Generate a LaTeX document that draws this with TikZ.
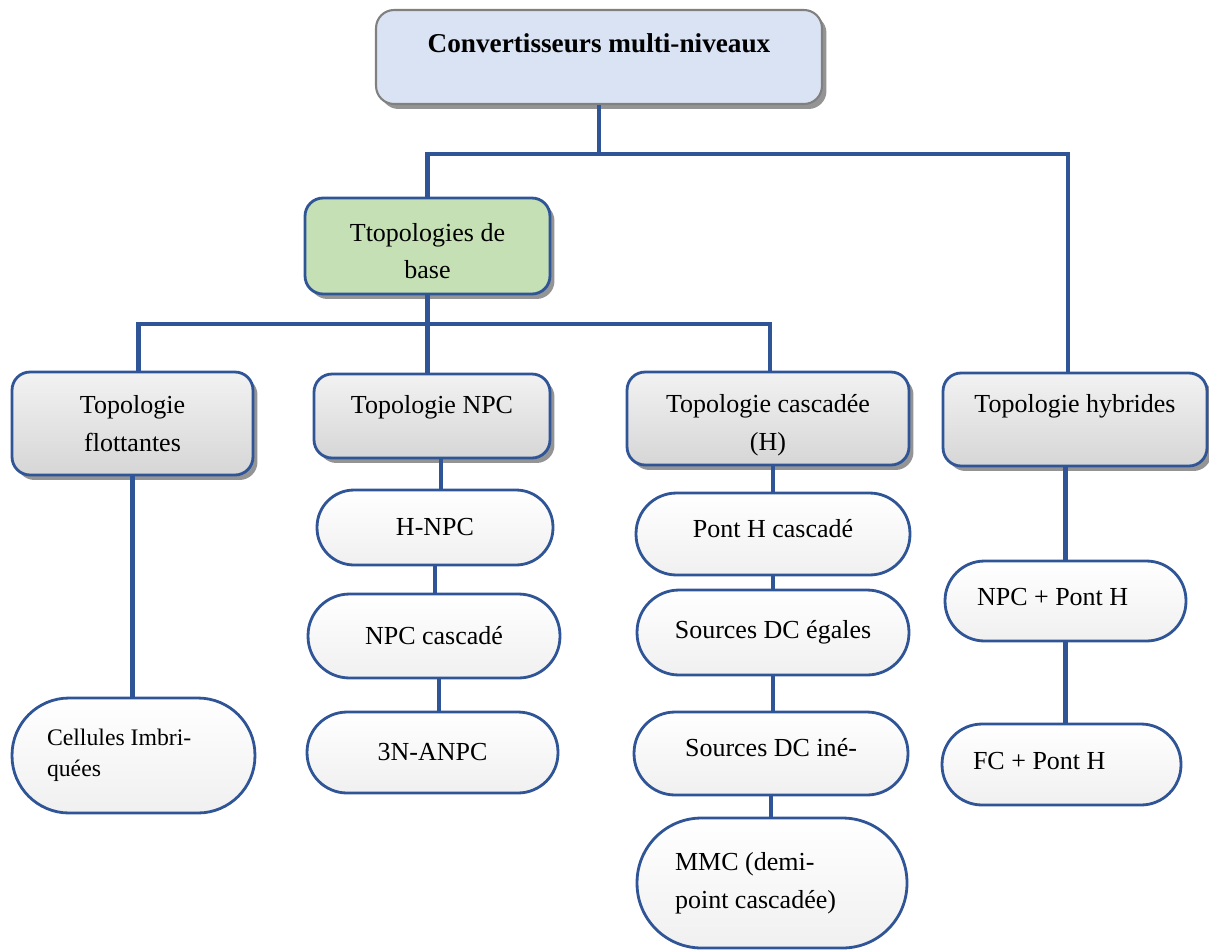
\documentclass[tikz,border=0pt]{standalone}
\usepackage{fontspec}
\setmainfont{Liberation Serif}
\usetikzlibrary{shadows}
\definecolor{lineblue}{HTML}{2F5597}
\definecolor{topfill}{HTML}{DAE3F3}
\definecolor{topgrey}{HTML}{808080}
\definecolor{basegreen}{HTML}{C5E0B4}
\definecolor{greytop}{HTML}{F2F2F2}
\definecolor{greybot}{HTML}{D6D6D6}
\definecolor{termbot}{HTML}{F0F0F0}
\begin{document}
\begin{tikzpicture}[x=0.02cm, y=-0.02cm,
    font=\fontsize{14.8}{21.6}\selectfont,
    wire/.style={lineblue, line width=2.3pt},
    box/.style={draw=lineblue, line width=1.6pt, rounded corners=0.36cm, align=center,
        drop shadow={shadow xshift=0.09cm, shadow yshift=-0.1cm, fill=black!42, opacity=1}},
    grey/.style={box, top color=greytop, bottom color=greybot},
    term/.style={draw=lineblue, line width=1.6pt, rounded corners=#1, top color=white, bottom color=termbot, align=center},
    txtup/.style={text height=0.7em, text depth=#1}]
            \useasboundingbox (0,0) rectangle (1209,950);
            \node[box, fill=topfill, draw=topgrey, line width=1.2pt, minimum width=8.92cm, minimum height=1.88cm, txtup=0.41cm, font=\fontsize{15.5}{20}\selectfont\bfseries] (A) at (599,57) {Convertisseurs multi-niveaux};
            \node[box, fill=basegreen, minimum width=4.9cm, minimum height=1.92cm, text height=1.32cm, text depth=0cm] (B) at (427.5,246) {Ttopologies de\\base};
            \node[grey, minimum width=4.82cm, minimum height=2.06cm] (C) at (132.5,423.5) {Topologie\\flottantes};
            \node[grey, minimum width=4.72cm, minimum height=1.68cm, txtup=0.33cm] (D) at (432,416) {Topologie NPC};
            \node[grey, minimum width=5.64cm, minimum height=1.86cm, text height=1.4cm, text depth=0.13cm] (E) at (768,418.5) {Topologie cascadée\\(H)};
            \node[grey, minimum width=5.28cm, minimum height=1.86cm, txtup=0.53cm] (F) at (1075,419.5) {Topologie hybrides};
            \node[term=0.74cm, minimum width=4.72cm, minimum height=1.5cm] (G) at (435,527.5) {H-NPC};
            \node[term=0.83cm, minimum width=5.04cm, minimum height=1.68cm] (H) at (434,636) {NPC cascadé};
            \node[term=0.8cm, minimum width=5.02cm, minimum height=1.62cm] (I) at (432.5,752.5) {3N-ANPC};
            \node[term=0.81cm, minimum width=5.48cm, minimum height=1.64cm, txtup=0.09cm] (J) at (773,534) {Pont H cascadé};
            \node[term=0.84cm, minimum width=5.44cm, minimum height=1.7cm] (K) at (773,632.5) {Sources DC égales};
            \node[term=0.82cm, minimum width=5.48cm, minimum height=1.66cm, txtup=0.11cm] (L) at (771,753.5) {Sources DC iné-};
            \node[term=1.29cm, minimum width=5.4cm, minimum height=2.6cm, align=flush left, text width=3.88cm, inner xsep=0.76cm] (M) at (772,883) {MMC (demi-\\point cascadée)};
            \node[term=1.14cm, minimum width=4.86cm, minimum height=2.3cm, align=flush left, text width=3.46cm, inner xsep=0.7cm, font=\fontsize{13.5}{17.6}\selectfont] (N) at (133.5,755.5) {Cellules Imbri-\\quées};
            \node[term=0.79cm, minimum width=4.82cm, minimum height=1.6cm, align=flush left, text width=3.54cm, inner xsep=0.64cm, txtup=0.05cm] (O) at (1065.5,601) {NPC + Pont H};
            \node[term=0.8cm, minimum width=4.78cm, minimum height=1.62cm, align=flush left, text width=3.54cm, inner xsep=0.62cm, txtup=0.05cm] (P) at (1061.5,764.5) {FC + Pont H};
            \coordinate (X) at (599,154);
            \coordinate (Y) at (427.5,324);
            \draw[wire] (A.south) -- (A.south |- X);
            \draw[wire] (B.north) |- (X) -| ([xshift=-0.14cm]F.north);
            \draw[wire] (B.south) -- (Y);
            \draw[wire] ([xshift=0.12cm]C.north) |- (Y) -| ([xshift=0.04cm]E.north);
            \draw[wire] (Y) -- (Y |- D.north);
            \draw[wire] (C.south) -- (C.south |- N.north);
            \draw[wire] ([xshift=0.12cm]G.north |- D.south) -- ([xshift=0.12cm]G.north);
            \draw[wire] (G.south) -- (G.south |- H.north);
            \draw[wire] ([xshift=0.1cm]H.south) -- ([xshift=0.1cm]H.south |- I.north);
            \draw[wire] (J.north |- E.south) -- (J.north);
            \draw[wire] (J.south) -- (J.south |- K.north);
            \draw[wire] (K.south) -- (K.south |- L.north);
            \draw[wire] (L.south) -- (L.south |- M.north);
            \draw[wire] (O.north |- F.south) -- (O.north);
            \draw[wire] (O.south) -- (O.south |- P.north);
        \end{tikzpicture}
\end{document}
